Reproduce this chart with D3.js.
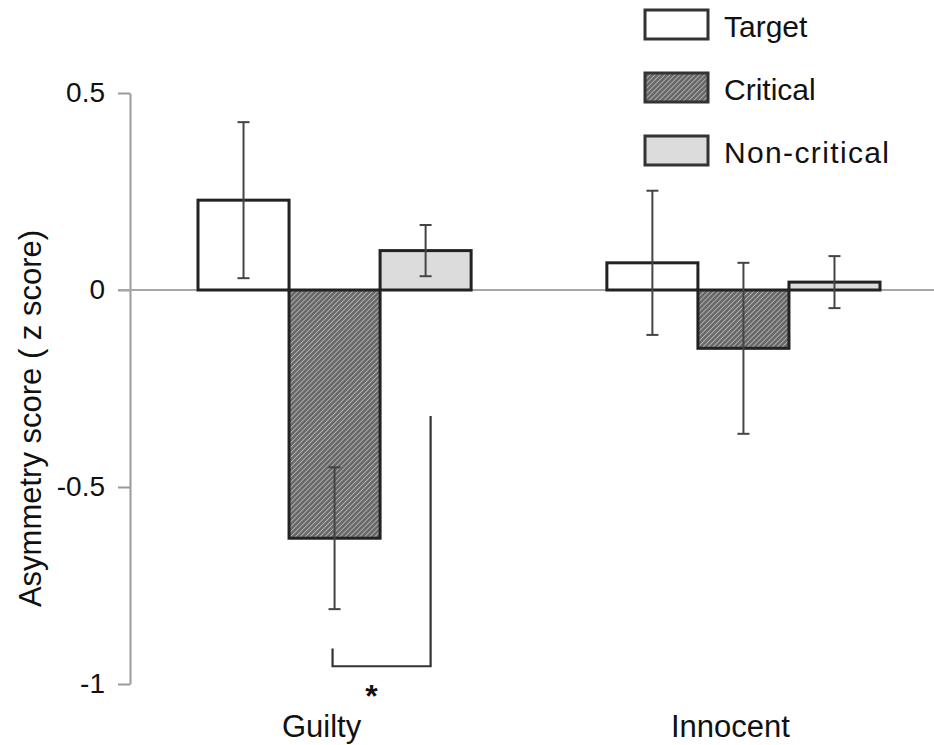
<!DOCTYPE html>
<html>
<head>
<meta charset="utf-8">
<script src="https://cdn.jsdelivr.net/npm/d3@7"></script>
<style>
  html, body { margin: 0; padding: 0; background: #fff; }
  svg { display: block; font-family: "Liberation Sans", Arial, sans-serif; }
</style>
</head>
<body>
<svg id="chart" width="934" height="745"></svg>
<script>
// ---- data ----
const groups = ["Guilty", "Innocent"];
const conditions = ["Target", "Critical", "Non-critical"];
const guiltyMeans = [0.228, -0.63, 0.10];
const guiltyErrors = [0.198, 0.18, 0.065];
const innocentMeans = [0.069, -0.148, 0.02];
const innocentErrors = [0.183, 0.217, 0.066];
const yTicks = [0.5, 0, -0.5, -1];
const yTickLabels = ["0.5", "0", "-0.5", "-1"];
const yLabel = "Asymmetry score ( z score)";
const bracketValues = [-0.91, -0.955, -0.32]; // left top, bottom, right top
const sigLabel = "*";

const rows = [];
groups.forEach((g, gi) => {
  const m = gi === 0 ? guiltyMeans : innocentMeans;
  const e = gi === 0 ? guiltyErrors : innocentErrors;
  conditions.forEach((c, ci) => rows.push({ group: g, cond: c, value: m[ci], err: e[ci] }));
});

const svg = d3.select("#chart");

// pattern for hatched fill
const defs = svg.append("defs");
const pat = defs.append("pattern")
  .attr("id", "hatch").attr("patternUnits", "userSpaceOnUse")
  .attr("width", 3.5).attr("height", 3.5)
  .attr("patternTransform", "rotate(45)");
pat.append("rect").attr("width", 3.5).attr("height", 3.5).attr("fill", "#686868");
pat.append("line").attr("x1", 0).attr("y1", 0).attr("x2", 0).attr("y2", 3.5)
  .attr("stroke", "#b4b4b4").attr("stroke-width", 1.8);

const fills = { "Target": "#ffffff", "Critical": "url(#hatch)", "Non-critical": "#dcdcdc" };

// scales
const y = d3.scaleLinear().domain([-1, 0.5]).range([684, 93]);
const x0 = d3.scaleBand().domain(groups).range([198, 880]).paddingInner(0.332).paddingOuter(0);
const x1 = d3.scaleBand().domain(conditions).range([0, x0.bandwidth()]).padding(0);

// y axis
const axisG = svg.append("g").attr("transform", "translate(130,0)")
  .call(d3.axisLeft(y).tickValues(yTicks).tickFormat((d, i) => yTickLabels[i]).tickSize(12).tickSizeOuter(0).tickPadding(13));
axisG.select(".domain").attr("stroke", "#9a9a9a").attr("stroke-width", 2);
axisG.selectAll(".tick line").attr("stroke", "#9a9a9a").attr("stroke-width", 2);
axisG.selectAll(".tick text").attr("font-size", 28).attr("fill", "#111")
  .attr("font-family", "'Liberation Sans', Arial, sans-serif");

// zero line
svg.append("line")
  .attr("x1", 118).attr("x2", 934).attr("y1", y(0)).attr("y2", y(0))
  .attr("stroke", "#a6a6a6").attr("stroke-width", 2);

// y label
svg.append("text")
  .attr("transform", `translate(41,${(y(0.5) + y(-1)) / 2 + 30}) rotate(-90)`)
  .attr("text-anchor", "middle").attr("font-size", 31).attr("fill", "#111")
  .text(yLabel);

// bars
const barG = svg.append("g");
barG.selectAll("rect").data(rows).join("rect")
  .attr("x", d => x0(d.group) + x1(d.cond))
  .attr("width", x1.bandwidth())
  .attr("y", d => y(Math.max(0, d.value)))
  .attr("height", d => Math.abs(y(d.value) - y(0)))
  .attr("fill", d => fills[d.cond])
  .attr("stroke", "#222").attr("stroke-width", 3);

// error bars
const capW = 12;
const eg = svg.append("g").attr("stroke", "#444").attr("stroke-width", 2);
rows.forEach(d => {
  const cx = x0(d.group) + x1(d.cond) + x1.bandwidth() / 2;
  eg.append("line").attr("x1", cx).attr("x2", cx).attr("y1", y(d.value + d.err)).attr("y2", y(d.value - d.err));
  eg.append("line").attr("x1", cx - capW / 2).attr("x2", cx + capW / 2).attr("y1", y(d.value + d.err)).attr("y2", y(d.value + d.err));
  eg.append("line").attr("x1", cx - capW / 2).attr("x2", cx + capW / 2).attr("y1", y(d.value - d.err)).attr("y2", y(d.value - d.err));
});

// significance bracket
const bxL = x0("Guilty") + x1("Critical") + x1.bandwidth() / 2 - 2;
const bxR = x0("Guilty") + x1("Non-critical") + x1.bandwidth() / 2 + 5;
svg.append("path")
  .attr("d", d3.line()([[bxL, y(bracketValues[0])], [bxL, y(bracketValues[1])], [bxR, y(bracketValues[1])], [bxR, y(bracketValues[2])]]))
  .attr("fill", "none").attr("stroke", "#333").attr("stroke-width", 2.2);
svg.append("text")
  .attr("x", (bxL + bxR) / 2 - 10).attr("y", y(bracketValues[1]) + 41)
  .attr("text-anchor", "middle").attr("font-size", 32).attr("font-weight", "bold").attr("fill", "#111")
  .text(sigLabel);

// group labels
svg.append("g").selectAll("text").data(groups).join("text")
  .attr("x", d => x0(d) + x0.bandwidth() / 2 - 13)
  .attr("y", 737)
  .attr("text-anchor", "middle").attr("font-size", 31).attr("fill", "#111")
  .text(d => d);

// legend
const leg = svg.append("g").attr("transform", "translate(645,10)");
conditions.forEach((c, i) => {
  const gy = i * 63;
  leg.append("rect").attr("x", 0).attr("y", gy).attr("width", 63).attr("height", 29)
    .attr("fill", fills[c]).attr("stroke", "#333").attr("stroke-width", 3);
  const t = leg.append("text").attr("x", 79).attr("y", gy + 27)
    .attr("font-size", 30).attr("fill", "#111").text(c);
  if (c === "Non-critical") t.attr("textLength", 165).attr("lengthAdjust", "spacing");
});
</script>
</body>
</html>
